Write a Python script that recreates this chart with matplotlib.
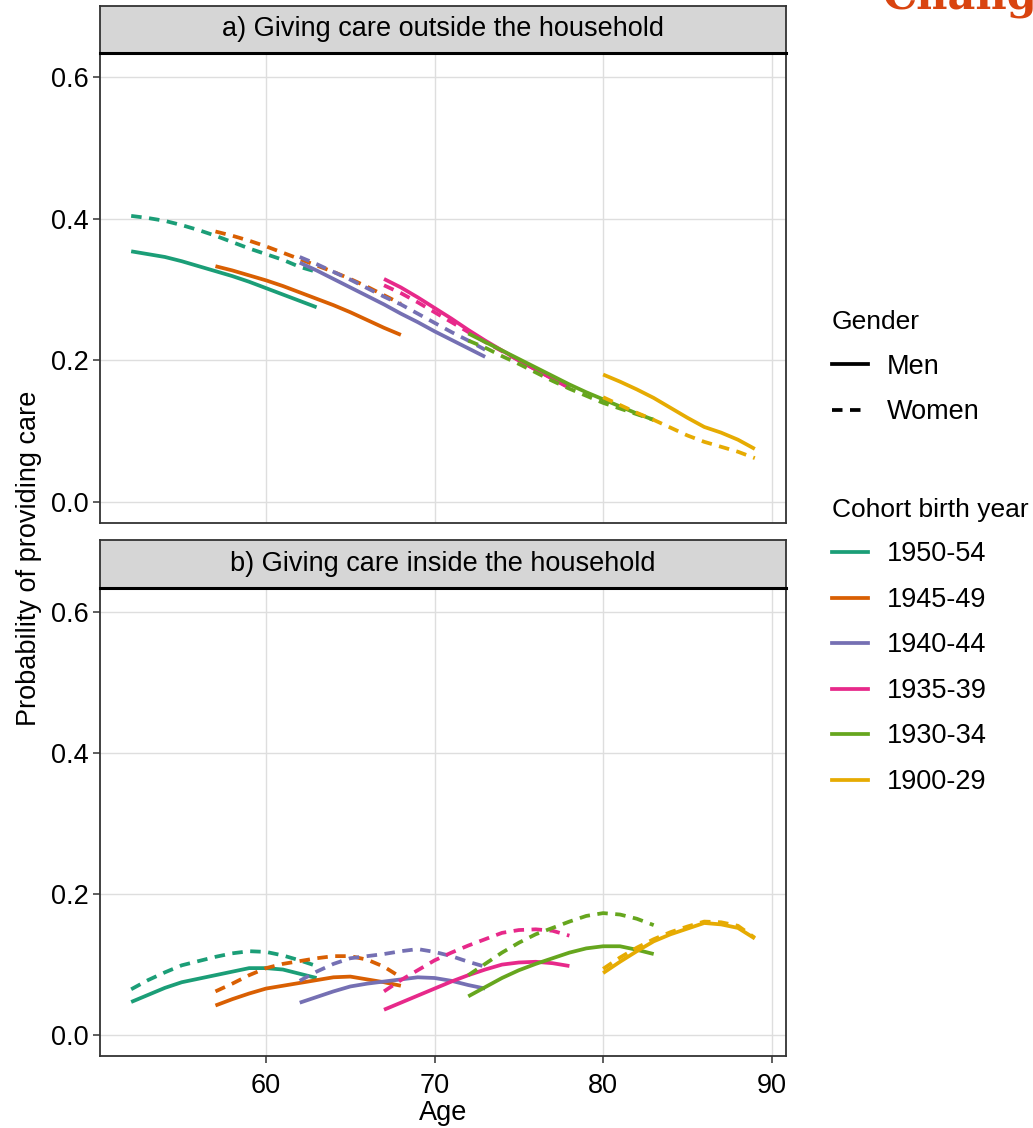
import matplotlib
matplotlib.use("Agg")
import matplotlib.pyplot as plt
from matplotlib.lines import Line2D

plt.rcParams['font.family'] = ['Liberation Sans', 'DejaVu Sans']

# cohorts and their colours (Dark2)
cohorts = ['1950-54', '1945-49', '1940-44', '1935-39', '1930-34', '1900-29']
colors = ['#1B9E77', '#D95F02', '#7570B3', '#E7298A', '#66A61E', '#E6AB02']
age_start = [52, 57, 62, 67, 72, 80]
age_end = [63, 68, 73, 78, 83, 89]

# a) giving care outside the household
out_men = [
    [0.354, 0.350, 0.346, 0.340, 0.333, 0.326, 0.319, 0.311, 0.302, 0.293, 0.284, 0.275],
    [0.333, 0.327, 0.320, 0.313, 0.305, 0.296, 0.287, 0.278, 0.268, 0.257, 0.246, 0.236],
    [0.338, 0.327, 0.315, 0.303, 0.291, 0.279, 0.266, 0.254, 0.241, 0.229, 0.217, 0.205],
    [0.315, 0.303, 0.289, 0.274, 0.259, 0.243, 0.228, 0.214, 0.200, 0.187, 0.174, 0.162],
    [0.238, 0.226, 0.214, 0.202, 0.190, 0.178, 0.166, 0.155, 0.145, 0.135, 0.125, 0.116],
    [0.180, 0.170, 0.159, 0.147, 0.133, 0.119, 0.106, 0.098, 0.088, 0.075],
]
out_women = [
    [0.404, 0.401, 0.397, 0.391, 0.384, 0.376, 0.367, 0.358, 0.350, 0.342, 0.332, 0.325],
    [0.382, 0.376, 0.369, 0.361, 0.352, 0.343, 0.334, 0.325, 0.315, 0.304, 0.292, 0.280],
    [0.346, 0.336, 0.325, 0.314, 0.302, 0.290, 0.279, 0.266, 0.253, 0.240, 0.228, 0.215],
    [0.306, 0.295, 0.282, 0.268, 0.254, 0.240, 0.226, 0.213, 0.200, 0.187, 0.174, 0.161],
    [0.228, 0.218, 0.206, 0.195, 0.183, 0.171, 0.160, 0.150, 0.140, 0.132, 0.124, 0.116],
    [0.148, 0.137, 0.126, 0.116, 0.105, 0.094, 0.085, 0.078, 0.071, 0.062],
]

# b) giving care inside the household
in_men = [
    [0.047, 0.057, 0.067, 0.075, 0.080, 0.085, 0.090, 0.095, 0.095, 0.093, 0.087, 0.081],
    [0.042, 0.051, 0.059, 0.066, 0.070, 0.074, 0.078, 0.082, 0.083, 0.079, 0.075, 0.070],
    [0.046, 0.054, 0.062, 0.069, 0.073, 0.076, 0.079, 0.082, 0.081, 0.077, 0.071, 0.066],
    [0.036, 0.046, 0.056, 0.066, 0.076, 0.085, 0.093, 0.100, 0.103, 0.104, 0.102, 0.098],
    [0.055, 0.068, 0.081, 0.092, 0.101, 0.109, 0.117, 0.123, 0.126, 0.126, 0.121, 0.115],
    [0.088, 0.104, 0.119, 0.133, 0.143, 0.151, 0.159, 0.157, 0.152, 0.137],
]
in_women = [
    [0.065, 0.078, 0.089, 0.099, 0.105, 0.111, 0.116, 0.119, 0.118, 0.113, 0.106, 0.098],
    [0.062, 0.073, 0.085, 0.095, 0.101, 0.105, 0.109, 0.112, 0.112, 0.107, 0.097, 0.082],
    [0.077, 0.090, 0.101, 0.109, 0.112, 0.115, 0.119, 0.122, 0.118, 0.112, 0.104, 0.097],
    [0.062, 0.078, 0.092, 0.106, 0.117, 0.127, 0.136, 0.145, 0.149, 0.150, 0.148, 0.141],
    [0.085, 0.101, 0.117, 0.131, 0.143, 0.152, 0.161, 0.169, 0.173, 0.171, 0.165, 0.156],
    [0.094, 0.110, 0.124, 0.136, 0.146, 0.154, 0.161, 0.160, 0.155, 0.138],
]

panel_titles = ['a) Giving care outside the household', 'b) Giving care inside the household']
yticks = [0.0, 0.2, 0.4, 0.6]
xticks = [60, 70, 80, 90]

W, H = 1033, 1128
fig = plt.figure(figsize=(W / 100, H / 100), dpi=100)

FS = 19.5
LW = 2.7
DASH = (0, (2.8, 2.0))
border = '#333333'


def fx(px):
    return px / W


def fy(py):
    return 1 - py / H


# panel boxes in pixels: (left, top, right, bottom), strip top
panels = [(100, 53, 786, 523, 6), (100, 588, 786, 1056, 540)]
data = [(out_men, out_women), (in_men, in_women)]

for i, (l, t, r, b, st) in enumerate(panels):
    ax = fig.add_axes([fx(l), fy(b), fx(r) - fx(l), fy(t) - fy(b)])
    men, women = data[i]
    for k in range(len(cohorts)):
        ages = list(range(age_start[k], age_end[k] + 1))
        ax.plot(ages, women[k], color=colors[k], lw=LW, linestyle=DASH,
                dash_capstyle='butt', zorder=3)
        ax.plot(ages, men[k], color=colors[k], lw=LW, solid_capstyle='butt', zorder=3)
    ax.set_xlim(50.15, 90.85)
    ax.set_ylim(-0.0296, 0.634)
    ax.set_yticks(yticks)
    ax.set_yticklabels([f'{v:.1f}' for v in yticks])
    ax.set_xticks(xticks)
    ax.grid(True, color='#DEDEDE', lw=1.0, zorder=0)
    ax.set_axisbelow(True)
    for s in ax.spines.values():
        s.set_color(border)
        s.set_linewidth(1.3)
    ax.tick_params(axis='both', colors=border, labelcolor='black', labelsize=FS,
                   length=5, width=1.1, direction='out', pad=3)
    if i == 0:
        ax.tick_params(axis='x', length=0, labelbottom=False)
    else:
        ax.tick_params(axis='x', pad=7)
        ax.set_xlabel('Age', fontsize=FS, labelpad=1)

    # facet strip
    sax = fig.add_axes([fx(l), fy(t), fx(r) - fx(l), fy(st) - fy(t)])
    sax.set_facecolor('#D6D6D6')
    sax.set_xticks([])
    sax.set_yticks([])
    for s in sax.spines.values():
        s.set_color(border)
        s.set_linewidth(1.3)
    sax.spines['bottom'].set_linewidth(2.2)
    sax.spines['bottom'].set_color('black')
    sax.text(0.5, 0.5, panel_titles[i], ha='center', va='center', fontsize=FS,
             transform=sax.transAxes)

fig.text(fx(29), fy(558), 'Probability of providing care', rotation=90,
         ha='center', va='center', fontsize=FS)

# legends
leg_kw = dict(loc='upper left', frameon=False, fontsize=FS, title_fontsize=19,
              alignment='left', handlelength=1.33, handletextpad=0.7,
              labelspacing=0.72, borderpad=0, borderaxespad=0)
g_handles = [Line2D([], [], color='black', lw=LW),
             Line2D([], [], color='black', lw=LW, linestyle=DASH, dash_capstyle='butt')]
fig.legend(g_handles, ['Men', 'Women'], title='Gender',
           bbox_to_anchor=(fx(832), fy(310)), **leg_kw)
c_handles = [Line2D([], [], color=c, lw=LW) for c in colors]
fig.legend(c_handles, cohorts, title='Cohort birth year',
           bbox_to_anchor=(fx(832), fy(498)), **leg_kw)

# cropped heading from the source page
fig.text(fx(882), fy(8), 'Changing', color='#D9440F', fontsize=31, fontweight='bold',
         family='DejaVu Serif', ha='left', va='baseline')

fig.savefig('out.png', dpi=100)
